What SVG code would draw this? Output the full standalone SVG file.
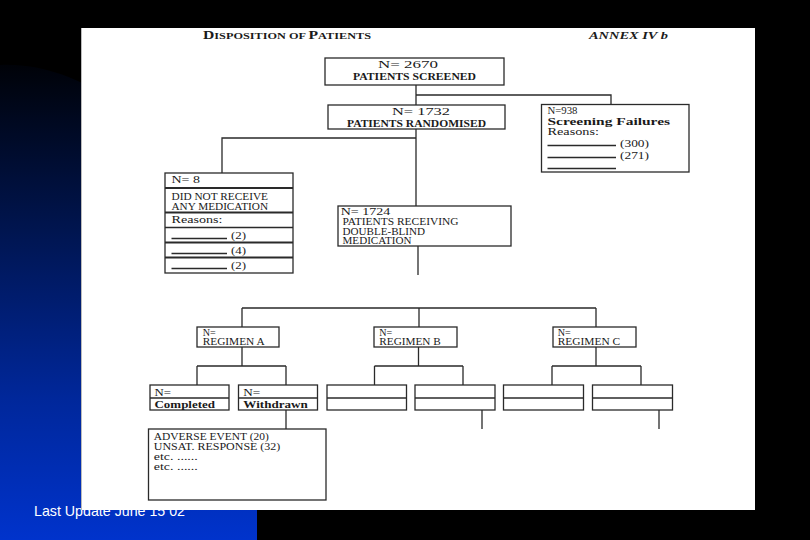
<svg xmlns="http://www.w3.org/2000/svg" width="810" height="540" viewBox="0 0 810 540">
<defs>
<linearGradient id="blueGrad" x1="0" y1="0" x2="0" y2="1">
<stop offset="0" stop-color="#000208"/>
<stop offset="0.35" stop-color="#001550"/>
<stop offset="0.7" stop-color="#00279a"/>
<stop offset="1" stop-color="#0033cc"/>
</linearGradient>
<style>
.box{fill:#fff;stroke:#2a2a2a;stroke-width:1.3}
.div{stroke:#2a2a2a;stroke-width:1.3;fill:none}
.thick{stroke:#2a2a2a;stroke-width:2;fill:none}
.conn{stroke:#2a2a2a;stroke-width:1.3;fill:none}
.t{font-family:"Liberation Serif","DejaVu Serif",serif;font-size:10.5px;fill:#1a1a1a}
.b{font-weight:bold}
.title{font-family:"Liberation Serif","DejaVu Serif",serif;font-weight:bold;fill:#1a1a1a}
.foot{font-family:"Liberation Sans","DejaVu Sans",sans-serif;font-size:15px;fill:#ffffff}
</style>
</defs>
<rect x="0" y="0" width="810" height="540" fill="#000000"/>
<path d="M0,65 C40,63 80,78 110,100 L257,200 L257,540 L0,540 Z" fill="url(#blueGrad)"/>
<text class="foot" x="34" y="516" textLength="151" lengthAdjust="spacingAndGlyphs">Last Update June 15 02</text>
<rect x="81" y="28" width="674" height="482" fill="#ffffff"/>
<line x1="81.5" y1="28" x2="81.5" y2="510" stroke="#bbbbbb" stroke-width="1"/>

<g id="header">
<text class="title" x="203" y="38.5" textLength="168" lengthAdjust="spacingAndGlyphs"><tspan font-size="11.5">D</tspan><tspan font-size="9">ISPOSITION OF </tspan><tspan font-size="11.5">P</tspan><tspan font-size="9">ATIENTS</tspan></text>
<text class="title" x="589" y="38.5" font-size="11" font-style="italic" textLength="79" lengthAdjust="spacingAndGlyphs">ANNEX IV b</text>
</g>

<g id="connectors">
<path class="conn" d="M416,85 V105 M416,95 H611 V104"/>
<path class="conn" d="M416,129 V206 M416,138 H222 V173"/>
<path class="conn" d="M418,246 V275"/>
<path class="conn" d="M242,308 H596 M242,308 V327 M419,308 V327 M596,308 V327"/>
<path class="conn" d="M242,347 V366 M197,366 H286 M197,366 V385 M286,366 V385"/>
<path class="conn" d="M418.5,347 V366 M374.5,366 H463 M374.5,366 V385 M463,366 V385"/>
<path class="conn" d="M596,347 V366 M552,366 H641 M552,366 V385 M641,366 V385"/>
<path class="conn" d="M286,410 V429"/>
<path class="conn" d="M482,410 V429 M659,410 V429"/>
</g>

<g id="screened">
<rect class="box" x="325" y="58" width="179" height="27"/>
<text class="t" x="378" y="68" font-size="11.5" textLength="60" lengthAdjust="spacingAndGlyphs">N= 2670</text>
<text class="t b" x="353" y="80" textLength="123" lengthAdjust="spacingAndGlyphs">PATIENTS SCREENED</text>
</g>

<g id="randomised">
<rect class="box" x="328" y="105" width="177" height="24"/>
<text class="t" x="392" y="115" font-size="11.5" textLength="58" lengthAdjust="spacingAndGlyphs">N= 1732</text>
<text class="t b" x="347" y="126.5" textLength="139" lengthAdjust="spacingAndGlyphs">PATIENTS RANDOMISED</text>
</g>

<g id="screening-failures">
<rect class="box" x="541.5" y="104.5" width="147.5" height="67.5"/>
<text class="t" x="547.5" y="113.5" font-size="11" textLength="30" lengthAdjust="spacingAndGlyphs">N=938</text>
<text class="t b" x="547.5" y="125" font-size="11.5" textLength="122.5" lengthAdjust="spacingAndGlyphs">Screening Failures</text>
<text class="t" x="547.5" y="134.5" textLength="51.5" lengthAdjust="spacingAndGlyphs">Reasons:</text>
<line class="div" x1="547.5" y1="145.5" x2="616" y2="145.5" stroke-width="1"/>
<text class="t" x="620" y="146.5" textLength="29" lengthAdjust="spacingAndGlyphs">(300)</text>
<line class="div" x1="547.5" y1="157.5" x2="616" y2="157.5" stroke-width="1"/>
<text class="t" x="620" y="158.5" textLength="29" lengthAdjust="spacingAndGlyphs">(271)</text>
<line class="div" x1="547.5" y1="168.5" x2="616" y2="168.5" stroke-width="1"/>
</g>

<g id="no-medication">
<rect class="box" x="165" y="173" width="128" height="100"/>
<line class="thick" x1="165" y1="188" x2="293" y2="188"/>
<line class="thick" x1="165" y1="212.5" x2="293" y2="212.5"/>
<line class="div" x1="165" y1="227.5" x2="293" y2="227.5"/>
<line class="thick" x1="165" y1="242.5" x2="293" y2="242.5"/>
<line class="thick" x1="165" y1="257.5" x2="293" y2="257.5"/>
<text class="t" x="171.5" y="183" textLength="28.5" lengthAdjust="spacingAndGlyphs">N= 8</text>
<text class="t" x="171.5" y="200" font-size="9.5" textLength="96.5" lengthAdjust="spacingAndGlyphs">DID NOT RECEIVE</text>
<text class="t" x="171.5" y="209.5" font-size="9.5" textLength="96.5" lengthAdjust="spacingAndGlyphs">ANY MEDICATION</text>
<text class="t" x="171.5" y="223" textLength="51" lengthAdjust="spacingAndGlyphs">Reasons:</text>
<line class="div" x1="171.5" y1="238.5" x2="227" y2="238.5" stroke-width="1"/>
<text class="t" x="231" y="238.5" textLength="15" lengthAdjust="spacingAndGlyphs">(2)</text>
<line class="div" x1="171.5" y1="253.5" x2="227" y2="253.5" stroke-width="1"/>
<text class="t" x="231" y="253.5" textLength="15" lengthAdjust="spacingAndGlyphs">(4)</text>
<line class="div" x1="171.5" y1="268.5" x2="227" y2="268.5" stroke-width="1"/>
<text class="t" x="231" y="268.5" textLength="15" lengthAdjust="spacingAndGlyphs">(2)</text>
</g>

<g id="double-blind">
<rect class="box" x="338" y="206" width="173" height="40"/>
<text class="t" x="340.7" y="215" font-size="11" textLength="49.5" lengthAdjust="spacingAndGlyphs">N= 1724</text>
<text class="t" x="342.5" y="225" font-size="9.5" textLength="116" lengthAdjust="spacingAndGlyphs">PATIENTS RECEIVING</text>
<text class="t" x="342.5" y="234.5" font-size="9.5" textLength="82.5" lengthAdjust="spacingAndGlyphs">DOUBLE-BLIND</text>
<text class="t" x="342.5" y="244" font-size="9.5" textLength="69" lengthAdjust="spacingAndGlyphs">MEDICATION</text>
</g>

<g id="regimen-a">
<rect class="box" x="197" y="327" width="82" height="20"/>
<text class="t" x="202.7" y="335.5" font-size="9.5" textLength="13" lengthAdjust="spacingAndGlyphs">N=</text>
<text class="t" x="202.7" y="345" font-size="9" textLength="62" lengthAdjust="spacingAndGlyphs">REGIMEN A</text>
</g>
<g id="regimen-b">
<rect class="box" x="374" y="327" width="83" height="20"/>
<text class="t" x="379.3" y="335.5" font-size="9.5" textLength="13" lengthAdjust="spacingAndGlyphs">N=</text>
<text class="t" x="379.3" y="345" font-size="9" textLength="61.5" lengthAdjust="spacingAndGlyphs">REGIMEN B</text>
</g>
<g id="regimen-c">
<rect class="box" x="553" y="327" width="83" height="20"/>
<text class="t" x="557.7" y="335.5" font-size="9.5" textLength="13" lengthAdjust="spacingAndGlyphs">N=</text>
<text class="t" x="557.7" y="345" font-size="9" textLength="62.5" lengthAdjust="spacingAndGlyphs">REGIMEN C</text>
</g>

<g id="completed-a">
<rect class="box" x="150" y="385" width="79" height="25"/>
<line class="div" x1="150" y1="398" x2="229" y2="398"/>
<text class="t" x="154.5" y="395.5" font-size="11" textLength="16.5" lengthAdjust="spacingAndGlyphs">N=</text>
<text class="t b" x="154.5" y="407.5" font-size="11" textLength="60.5" lengthAdjust="spacingAndGlyphs">Completed</text>
</g>
<g id="withdrawn-a">
<rect class="box" x="238.5" y="385" width="79" height="25"/>
<line class="div" x1="238.5" y1="398" x2="317.5" y2="398"/>
<text class="t" x="243.3" y="395.5" font-size="11" textLength="17" lengthAdjust="spacingAndGlyphs">N=</text>
<text class="t b" x="243.3" y="407.5" font-size="11" textLength="64.5" lengthAdjust="spacingAndGlyphs">Withdrawn</text>
</g>
<g id="completed-b">
<rect class="box" x="327" y="385" width="79.5" height="25"/>
<line class="div" x1="327" y1="398" x2="406.5" y2="398"/>
</g>
<g id="withdrawn-b">
<rect class="box" x="415" y="385" width="80" height="25"/>
<line class="div" x1="415" y1="398" x2="495" y2="398"/>
</g>
<g id="completed-c">
<rect class="box" x="503.5" y="385" width="80" height="25"/>
<line class="div" x1="503.5" y1="398" x2="583.5" y2="398"/>
</g>
<g id="withdrawn-c">
<rect class="box" x="592.5" y="385" width="80" height="25"/>
<line class="div" x1="592.5" y1="398" x2="672.5" y2="398"/>
</g>

<g id="withdrawal-reasons">
<rect class="box" x="148.5" y="429" width="177.5" height="71"/>
<text class="t" x="153.8" y="439.5" textLength="115" lengthAdjust="spacingAndGlyphs">ADVERSE EVENT (20)</text>
<text class="t" x="153.8" y="449.5" textLength="126.5" lengthAdjust="spacingAndGlyphs">UNSAT. RESPONSE (32)</text>
<text class="t" x="153.8" y="459.5" textLength="44" lengthAdjust="spacingAndGlyphs">etc. ......</text>
<text class="t" x="153.8" y="469.5" textLength="44" lengthAdjust="spacingAndGlyphs">etc. ......</text>
</g>
</svg>
